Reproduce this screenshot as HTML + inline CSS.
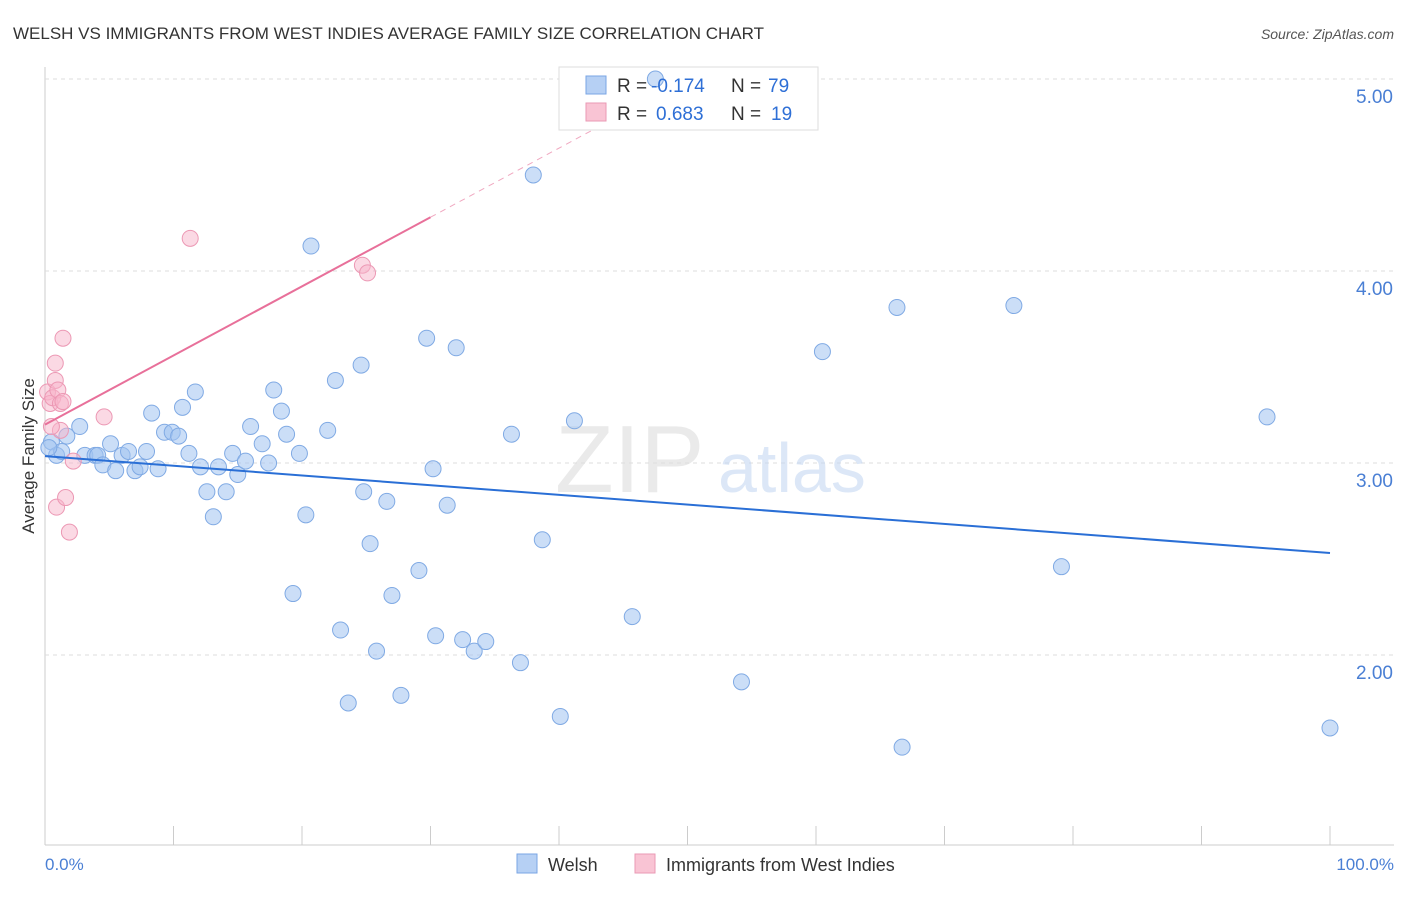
<!DOCTYPE html>
<html><head><meta charset="utf-8">
<style>
body{margin:0;background:#fff;font-family:"Liberation Sans",sans-serif;}
svg text{font-family:"Liberation Sans",sans-serif;}
</style></head>
<body>
<svg id="chart" width="1406" height="892" viewBox="0 0 1406 892" xmlns="http://www.w3.org/2000/svg">
<text x="13" y="39" font-size="17" fill="#333">WELSH VS IMMIGRANTS FROM WEST INDIES AVERAGE FAMILY SIZE CORRELATION CHART</text>
<text x="1394" y="39" font-size="14" fill="#555" text-anchor="end" font-style="italic">Source: ZipAtlas.com</text>
<g id="grid"></g>
<text x="555" y="492" font-size="96" fill="#ddd" font-family="Liberation Serif" opacity="0.6">ZIP</text>
<text x="718" y="492" font-size="70" fill="#c5d8f2" opacity="0.6">atlas</text>
<g id="marks"></g>
<text x="34" y="456" font-size="17" fill="#333" text-anchor="middle" transform="rotate(-90 34 456)">Average Family Size</text>
<text x="45" y="870" font-size="17" fill="#4a7fd4">0.0%</text>
<text x="1394" y="870" font-size="17" fill="#4a7fd4" text-anchor="end">100.0%</text>
<rect x="559" y="67" width="259" height="63" fill="#fff" stroke="#ddd"/>
<g id="overmarks"></g>
<g>
<rect x="586" y="76" width="20" height="18" fill="#b6d0f4" stroke="#7aa6e4"/>
<rect x="586" y="103" width="20" height="18" fill="#f9c4d4" stroke="#ea9ab4"/>
<text x="617" y="92" font-size="19" fill="#333">R =</text>
<text x="651" y="92" font-size="19" fill="#2e6fd6">-0.174</text>
<text x="731" y="92" font-size="19" fill="#333">N =</text>
<text x="768" y="92" font-size="19" fill="#2e6fd6">79</text>
<text x="617" y="120" font-size="19" fill="#333">R =</text>
<text x="656" y="120" font-size="19" fill="#2e6fd6">0.683</text>
<text x="731" y="120" font-size="19" fill="#333">N =</text>
<text x="771" y="120" font-size="19" fill="#2e6fd6">19</text>
</g>
<g>
<rect x="517" y="854" width="20" height="19" fill="#b6d0f4" stroke="#7aa6e4"/>
<text x="548" y="871" font-size="18" fill="#333">Welsh</text>
<rect x="635" y="854" width="20" height="19" fill="#f9c4d4" stroke="#ea9ab4"/>
<text x="666" y="871" font-size="18" fill="#333">Immigrants from West Indies</text>
</g>
</svg>
<script>
const yTicks=[2,3,4,5];
const yTickLabels=["2.00","3.00","4.00","5.00"];
const welshX=[0.5,0.9,1.3,1.7,2.7,3.1,3.9,4.1,4.5,5.1,5.5,6.0,6.5,7.0,7.4,7.9,8.3,8.8,9.3,9.9,10.4,10.7,11.2,11.7,12.1,12.6,13.1,13.5,14.1,14.6,15.0,15.6,16.0,16.9,17.4,17.8,18.4,18.8,19.3,19.8,20.3,20.7,22.0,22.6,23.0,23.6,24.6,24.8,25.3,25.8,26.6,27.0,27.7,29.1,29.7,30.4,31.3,32.0,32.5,33.4,34.3,36.3,37.0,38.0,38.7,40.1,41.2,45.7,47.5,54.2,60.5,66.3,66.7,75.4,79.1,95.1,100,30.2,0.3];
const welshY=[3.11,3.04,3.06,3.14,3.19,3.04,3.04,3.04,2.99,3.10,2.96,3.04,3.06,2.96,2.98,3.06,3.26,2.97,3.16,3.16,3.14,3.29,3.05,3.37,2.98,2.85,2.72,2.98,2.85,3.05,2.94,3.01,3.19,3.10,3.00,3.38,3.27,3.15,2.32,3.05,2.73,4.13,3.17,3.43,2.13,1.75,3.51,2.85,2.58,2.02,2.80,2.31,1.79,2.44,3.65,2.10,2.78,3.60,2.08,2.02,2.07,3.15,1.96,4.50,2.60,1.68,3.22,2.20,5.00,1.86,3.58,3.81,1.52,3.82,2.46,3.24,1.62,2.97,3.08];
const wiX=[0.2,0.4,0.6,0.8,0.8,1.0,0.9,1.2,1.4,1.2,1.4,1.6,1.9,2.2,4.6,11.3,24.7,25.1,0.5];
const wiY=[3.37,3.31,3.34,3.52,3.43,3.38,2.77,3.31,3.32,3.17,3.65,2.82,2.64,3.01,3.24,4.17,4.03,3.99,3.19];
const welshTrend=[3.036,2.531];
const wiTrend=[3.20,0.036];
const xs=p=>45+p*12.85, ys=v=>463-(v-3)*192;
const NS="http://www.w3.org/2000/svg";
function mk(t,a,parent){const e=document.createElementNS(NS,t);for(const k in a)e.setAttribute(k,a[k]);parent.appendChild(e);return e;}
const grid=document.getElementById('grid'), marks=document.getElementById('marks'), over=document.getElementById('overmarks');
mk('line',{x1:45,y1:67,x2:45,y2:845,stroke:'#ccc'},grid);
mk('line',{x1:45,y1:845,x2:1394,y2:845,stroke:'#ccc'},grid);
for(let i=0;i<=10;i++){const t=mk('line',{x1:xs(i*10),y1:826,x2:xs(i*10),y2:845,stroke:'#ccc'},grid);

}
yTicks.forEach((v,i)=>{const g=mk('line',{x1:45,y1:ys(v),x2:1394,y2:ys(v),stroke:'#ddd','stroke-dasharray':'4 4'},grid);


const t=mk('text',{x:1393,y:ys(v)+24,'font-size':19,fill:'#4a7fd4','text-anchor':'end'},grid);t.textContent=yTickLabels[i];

});
welshX.forEach((x,i)=>{const cy=ys(welshY[i]);const c=mk('circle',{cx:xs(x),cy:cy,r:8,fill:'rgba(160,195,240,0.55)',stroke:'#80aae4','stroke-width':1},cy<135&&xs(x)>550&&xs(x)<830?over:marks);

});
wiX.forEach((x,i)=>{const c=mk('circle',{cx:xs(x),cy:ys(wiY[i]),r:8,fill:'rgba(247,180,201,0.5)',stroke:'#ec98b4','stroke-width':1},marks);

});
let l=mk('line',{x1:xs(0),y1:ys(welshTrend[0]),x2:xs(100),y2:ys(welshTrend[1]),stroke:'#2a6fd6','stroke-width':2},marks);


l=mk('line',{x1:xs(0),y1:ys(wiTrend[0]),x2:xs(30),y2:ys(wiTrend[0]+wiTrend[1]*30),stroke:'#e8709a','stroke-width':2},marks);


l=mk('line',{x1:xs(30),y1:ys(wiTrend[0]+wiTrend[1]*30),x2:xs(46),y2:ys(wiTrend[0]+wiTrend[1]*46),stroke:'#f0a8c0','stroke-width':1,'stroke-dasharray':'6 5'},marks);


</script>
</body></html>
